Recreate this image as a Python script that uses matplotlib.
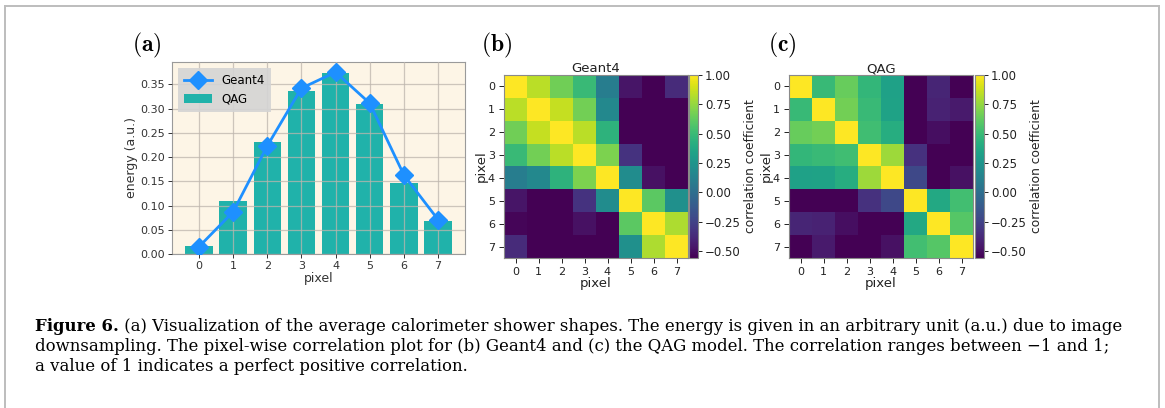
import numpy as np
import matplotlib
matplotlib.use("Agg")
import matplotlib.pyplot as plt
from matplotlib.lines import Line2D

plt.rcParams['mathtext.fontset'] = 'cm'
plt.rcParams['font.family'] = ['DejaVu Sans']

# ---------------- data ----------------
pixels = [0, 1, 2, 3, 4, 5, 6, 7]
qag_energy = [0.017, 0.109, 0.231, 0.336, 0.373, 0.310, 0.147, 0.069]
geant4_energy = [0.015, 0.087, 0.223, 0.342, 0.375, 0.311, 0.163, 0.071]

geant4_corr = [
    [1.00, 0.84, 0.66, 0.50, 0.10, -0.47, -0.56, -0.37],
    [0.84, 1.00, 0.86, 0.67, 0.17, -0.56, -0.56, -0.56],
    [0.66, 0.86, 1.00, 0.84, 0.45, -0.56, -0.56, -0.56],
    [0.50, 0.67, 0.84, 1.00, 0.69, -0.33, -0.56, -0.56],
    [0.10, 0.17, 0.45, 0.69, 1.00, 0.20, -0.49, -0.56],
    [-0.47, -0.56, -0.56, -0.33, 0.20, 1.00, 0.61, 0.22],
    [-0.54, -0.56, -0.56, -0.49, -0.56, 0.61, 1.00, 0.81],
    [-0.37, -0.56, -0.56, -0.56, -0.56, 0.22, 0.81, 1.00],
]
qag_corr = [
    [1.00, 0.49, 0.64, 0.47, 0.33, -0.56, -0.40, -0.56],
    [0.49, 1.00, 0.67, 0.50, 0.34, -0.56, -0.41, -0.45],
    [0.64, 0.67, 1.00, 0.52, 0.41, -0.56, -0.50, -0.56],
    [0.47, 0.50, 0.52, 1.00, 0.77, -0.34, -0.56, -0.56],
    [0.33, 0.34, 0.41, 0.77, 1.00, -0.22, -0.56, -0.49],
    [-0.56, -0.56, -0.56, -0.34, -0.22, 1.00, 0.38, 0.53],
    [-0.40, -0.41, -0.50, -0.56, -0.56, 0.38, 1.00, 0.59],
    [-0.56, -0.45, -0.56, -0.56, -0.49, 0.53, 0.59, 1.00],
]
cbar_ticks = [-0.50, -0.25, 0.00, 0.25, 0.50, 0.75, 1.00]
panel_labels = ['(a)', '(b)', '(c)']

caption_bold = "Figure 6."
caption_lines = [
    " (a) Visualization of the average calorimeter shower shapes. The energy is given in an arbitrary unit (a.u.) due to image",
    "downsampling. The pixel-wise correlation plot for (b) Geant4 and (c) the QAG model. The correlation ranges between \u22121 and 1;",
    "a value of 1 indicates a perfect positive correlation.",
]

# ---------------- figure ----------------
W, H = 1165, 408
fig = plt.figure(figsize=(W / 100, H / 100), dpi=100)
fig.patch.set_facecolor('white')

def fx(px):
    return px / W

def fy(py):
    return 1 - py / H

# border frame
for (x0, y0, x1, y1) in [(5, 6, 1159, 6), (5, 6, 5, 408), (1159, 6, 1159, 408)]:
    fig.add_artist(Line2D([fx(x0), fx(x1)], [fy(y0), fy(y1)], color='#bdbdbd', lw=1.4,
                          transform=fig.transFigure))

# ---------------- panel (a) ----------------
ax = fig.add_axes([fx(172), fy(254), fx(465) - fx(172), fy(62) - fy(254)])
ax.set_facecolor('#fdf5e6')
ax.bar(pixels, qag_energy, width=0.8, color='#20b2aa', label='QAG', zorder=2)
ax.plot(pixels, geant4_energy, color='#1e90ff', lw=2, marker='D', ms=9,
        label='Geant4', zorder=3)
ax.set_ylim(0, 0.396)
ax.set_yticks(np.arange(0, 0.351, 0.05))
ax.set_xticks(pixels)
ax.set_axisbelow(False)
ax.grid(True, color='#bdb5ad', lw=0.9, alpha=0.75, zorder=2.5)
ax.tick_params(labelsize=8, colors='#333333', length=3, width=0.7, pad=2)
ax.set_xlabel('pixel', fontsize=9, labelpad=1, color='#333333')
ax.set_ylabel('energy (a.u.)', fontsize=9, labelpad=2, color='#333333')
for s in ax.spines.values():
    s.set_color('#9a9a9a')
    s.set_linewidth(0.8)
leg = ax.legend(loc='upper left', fontsize=8.5, facecolor='#d4d4d4', edgecolor='none',
                framealpha=0.9, borderpad=0.5, handlelength=2.4, fancybox=False)

# ---------------- heatmaps ----------------
def heatmap(left_px, cb_left_px, data, title):
    axh = fig.add_axes([fx(left_px), fy(258), fx(184), fy(75) - fy(258)])
    im = axh.imshow(np.array(data), cmap='viridis', aspect='auto', interpolation='nearest')
    axh.set_xticks(pixels)
    axh.set_yticks(pixels)
    axh.tick_params(labelsize=8, colors='#222222', length=3.5, width=0.7, pad=3)
    axh.set_xlabel('pixel', fontsize=9.5, labelpad=0, color='#222222')
    axh.set_ylabel('pixel', fontsize=9.5, labelpad=0, color='#222222')
    axh.set_title(title, fontsize=9.5, pad=2, color='#222222')
    for s in axh.spines.values():
        s.set_color('#8a8a8a')
        s.set_linewidth(0.8)
    cax = fig.add_axes([fx(cb_left_px), fy(258), fx(9), fy(75) - fy(258)])
    cb = fig.colorbar(im, cax=cax, ticks=cbar_ticks)
    cb.ax.set_yticklabels(['%.2f' % t if t >= 0 else '\u2212%.2f' % abs(t) for t in cbar_ticks])
    cb.ax.tick_params(labelsize=8.5, colors='#222222', length=3, width=0.7, pad=2)
    cb.set_label('correlation coefficient', fontsize=8.8, color='#222222', labelpad=2)
    cb.outline.set_edgecolor('#8a8a8a')
    cb.outline.set_linewidth(0.8)
    return axh

heatmap(504, 689, geant4_corr, 'Geant4')
heatmap(789, 975, qag_corr, 'QAG')

# ---------------- panel labels ----------------
for lab, xc in zip(panel_labels, [147, 497, 782]):
    fig.text(fx(xc), fy(45), r'$\mathbf{%s}$' % lab, fontsize=17, ha='center', va='center')

# ---------------- caption ----------------
renderer = fig.canvas.get_renderer()
serif = ['DejaVu Serif']
base_fs = 11.0
tb = fig.text(fx(35), fy(331), caption_bold, fontsize=base_fs, fontweight='bold',
              family=serif, va='baseline', ha='left')
tr = fig.text(0, 0, caption_lines[0], fontsize=base_fs, family=serif, va='baseline', ha='left')
wb = tb.get_window_extent(renderer).width
wr = tr.get_window_extent(renderer).width
target = 1118 - 35
fs = base_fs * target / (wb + wr)
tb.set_fontsize(fs)
tr.set_fontsize(fs)
wb = tb.get_window_extent(renderer).width
tr.set_position((fx(35) + wb / W, fy(331)))
for line, yb in zip(caption_lines[1:], [351, 371]):
    fig.text(fx(35), fy(yb), line, fontsize=fs, family=serif, va='baseline', ha='left')

fig.savefig('out.png', dpi=100, facecolor='white')
